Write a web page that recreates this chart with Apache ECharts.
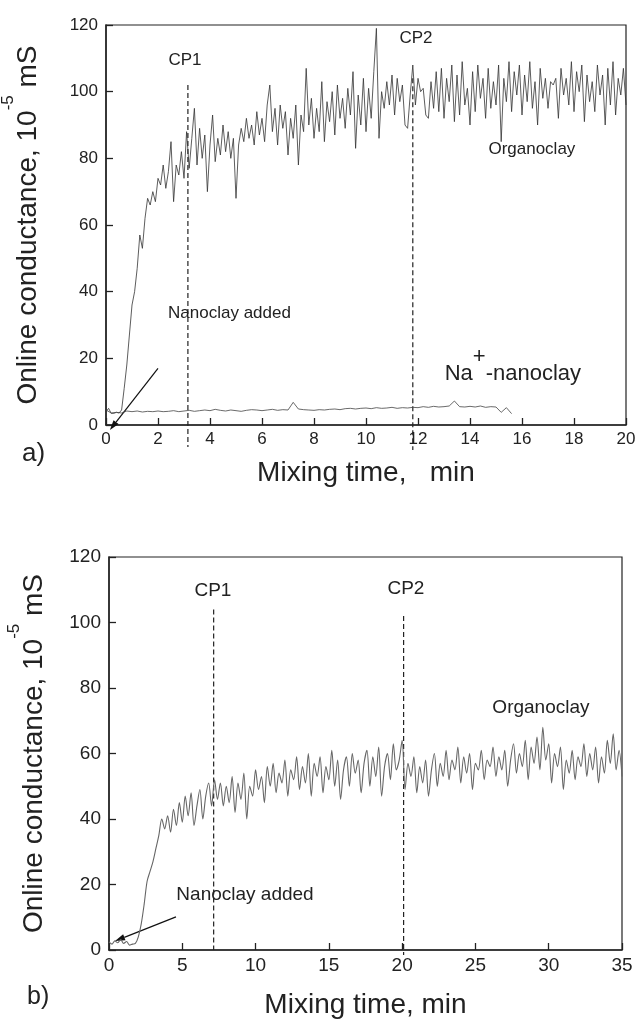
<!DOCTYPE html>
<html>
<head>
<meta charset="utf-8">
<script src="https://cdn.jsdelivr.net/npm/echarts@6.0.0/dist/echarts.min.js"></script>
<style>
  html, body { margin: 0; padding: 0; background: #fff; }
  #chart { width: 637px; height: 1019px; }
</style>
</head>
<body>
<div id="chart"></div>
<script>
  // (a) organoclay, sampled every 0.1 min from 0 to 20 min
  const ORG_A_STEP = 0.1;
  const ORG_A = [
    4, 5, 3.5, 3.5, 3.8, 3.6, 4.5, 11, 18, 27,
    36, 40, 47, 57, 53, 62, 68, 66, 70, 67,
    74, 72, 78, 71, 76, 85, 67, 78, 75, 82,
    74, 88, 77, 86, 95, 78, 89, 80, 87, 70,
    84, 93, 79, 86, 81, 90, 82, 88, 80, 86,
    68, 84, 89, 85, 92, 86, 90, 84, 94, 87,
    92, 85, 96, 102, 88, 95, 84, 96, 89, 94,
    81, 92, 86, 96, 78, 93, 88, 107, 90, 98,
    86, 95, 88, 103, 85, 97, 91, 100, 87, 102,
    92, 98, 89, 101, 93, 106, 83, 99, 90, 104,
    88, 101, 92, 106, 119, 86, 100, 95, 103, 96,
    105, 93, 104, 97, 102, 90, 89, 99, 108, 96,
    104, 100, 101, 93, 92, 103, 95, 106, 94, 107,
    92, 104, 97, 108, 91, 105, 93, 109, 96, 101,
    90, 106, 94, 108, 98, 104, 92, 107, 95, 103,
    96, 108, 85, 104, 97, 109, 94, 106, 99, 108,
    93, 105, 97, 109, 95, 103, 90, 107, 98, 104,
    95, 103, 102, 104, 92, 107, 99, 104, 96, 109,
    94, 106, 100, 108, 91, 105, 97, 103, 94, 108,
    99, 105, 90, 107, 96, 109, 93, 104, 99, 107,
    96
  ];

  // (a) Na+-nanoclay, sampled every 0.2 min from 0 to 15.6 min
  const NA_A_STEP = 0.2;
  const NA_A = [
    4.5, 3.6, 3.8, 3.6, 4.2, 4.0, 4.2, 3.9, 4.1, 4.0,
    4.2, 4.0, 4.1, 4.3, 4.0, 4.2, 4.4, 4.1, 4.3, 4.5,
    4.3, 4.7, 4.4, 4.2, 4.5, 4.3, 4.1, 4.4, 4.6, 4.5,
    4.3, 4.5, 4.7, 4.4, 4.6, 4.5, 6.8, 4.8, 4.6, 4.5,
    4.4, 4.6, 4.5, 4.7, 4.8, 4.6, 4.9, 5.0, 4.8, 5.0,
    5.1, 4.9, 5.2, 5.0, 5.1, 5.3, 5.0, 5.2, 5.1, 5.3,
    5.2, 5.5, 5.3, 5.6, 5.4, 5.5, 5.7, 7.2, 5.5, 5.4,
    5.6, 5.4, 5.7, 5.3, 5.5, 5.4, 3.8, 5.2, 3.4
  ];

  // (b) organoclay, sampled every 0.2 min from 0 to 35 min
  const ORG_B_STEP = 0.2;
  const ORG_B = [
    2.5, 1.8, 2.8, 2.2, 3.2, 2.0, 2.6, 1.5, 1.8, 2.0,
    4, 8, 14, 21, 24, 27, 31, 35, 40, 37,
    41, 36, 43, 38, 45, 39, 47, 41, 48, 38,
    44, 49, 40, 47, 51, 44, 52, 46, 51, 44,
    50, 45, 53, 42, 51, 46, 54, 40, 50, 47,
    55, 49, 53, 45, 56, 50, 57, 48, 54, 51,
    58, 47, 55, 52, 59, 49, 56, 51, 60, 47,
    57, 53, 59, 48, 56, 52, 61, 50, 58, 46,
    55, 59, 50, 60, 54, 58, 48, 57, 61, 50,
    59, 53, 62, 47, 56, 60, 52, 63, 55, 58,
    64, 49, 57, 53, 59, 48, 56, 51, 58, 47,
    55, 60, 50, 57, 53, 61, 52, 58, 55, 62,
    51, 59, 54, 60, 49, 57, 55, 61, 52, 58,
    56, 62, 53, 59, 55, 61, 50, 58, 63, 54,
    60, 56, 64, 52, 62, 57, 65, 55, 68, 58,
    63, 51, 60, 56, 62, 49, 58, 54, 61, 52,
    59, 56, 63, 53, 60, 55, 62, 51, 59, 54,
    64, 57, 66, 55, 61, 53
  ];

  // critical points [time, top of dashed line, bottom of dashed line]
  const CP_A = [[3.15, 102, -6.6], [11.8, 104, -7.5]];
  const CP_B = [[7.14, 104, 0], [20.1, 102, -1.5]];

  // "Nanoclay added" arrows [fromTime, fromValue, toTime, toValue]
  const ARROW_A = [[2.0, 17, 0.15, -1.5]];
  const ARROW_B = [[4.57, 10.1, 0.41, 2.75]];

  // text annotations [text, time, value]
  const LABELS_A = [
    ['CP1', 3.04, 109.5],
    ['CP2', 11.92, 116],
    ['Organoclay', 16.38, 82.8],
    ['Nanoclay added', 4.75, 33.6],
    ['Na{sup|+}-nanoclay', 15.65, 15.3]
  ];
  const LABELS_B = [
    ['CP1', 7.09, 109.6],
    ['CP2', 20.26, 110.2],
    ['Organoclay', 29.47, 74.1],
    ['Nanoclay added', 9.28, 16.8]
  ];

  const FONT = '"Liberation Sans", Arial, Helvetica, sans-serif';
  const INK = '#222';

  const toPairs = (vals, step) => vals.map((v, i) => [Number((i * step).toFixed(2)), v]);

  const makeX = (gridIndex, max, interval, name, gap, size) => ({
    gridIndex,
    type: 'value',
    min: 0,
    max,
    interval,
    name,
    nameLocation: 'middle',
    nameGap: gap,
    nameMoveOverlap: false,
    nameTextStyle: { fontSize: 28, color: INK, fontFamily: FONT },
    axisLine: { lineStyle: { color: INK, width: 1.5 } },
    axisTick: { inside: true, length: 7, lineStyle: { color: INK, width: 1.3 } },
    axisLabel: { fontSize: size, color: INK, fontFamily: FONT, margin: 6 },
    splitLine: { show: false }
  });

  const makeY = (gridIndex, gap, size) => ({
    gridIndex,
    type: 'value',
    min: 0,
    max: 120,
    interval: 20,
    name: 'Online conductance, 10{sup|-5} mS',
    nameLocation: 'middle',
    nameGap: gap,
    nameMoveOverlap: false,
    nameTextStyle: {
      fontSize: 28,
      lineHeight: 56,
      color: INK,
      fontFamily: FONT,
      rich: { sup: { fontSize: 17, lineHeight: 12, verticalAlign: 'top', color: INK, fontFamily: FONT } }
    },
    axisLine: { show: true, lineStyle: { color: INK, width: 1.5 } },
    axisTick: { show: true, inside: true, length: 7, lineStyle: { color: INK, width: 1.3 } },
    axisLabel: { fontSize: size, color: INK, fontFamily: FONT, margin: 8 },
    splitLine: { show: false }
  });

  // dashed CP lines, may run below the x axis
  const cpSeries = (axisIndex, cps) => ({
    type: 'custom',
    xAxisIndex: axisIndex,
    yAxisIndex: axisIndex,
    silent: true,
    clip: false,
    data: cps,
    renderItem: (params, api) => {
      const p0 = api.coord([api.value(0), api.value(1)]);
      const p1 = api.coord([api.value(0), api.value(2)]);
      return {
        type: 'line',
        shape: { x1: p0[0], y1: p0[1], x2: p1[0], y2: p1[1] },
        style: { stroke: INK, lineWidth: 1.2, lineDash: [5, 3] }
      };
    }
  });

  const arrowSeries = (axisIndex, arrows) => ({
    type: 'custom',
    xAxisIndex: axisIndex,
    yAxisIndex: axisIndex,
    silent: true,
    clip: false,
    data: arrows,
    renderItem: (params, api) => {
      const a = api.coord([api.value(0), api.value(1)]);
      const b = api.coord([api.value(2), api.value(3)]);
      const dx = b[0] - a[0];
      const dy = b[1] - a[1];
      const len = Math.sqrt(dx * dx + dy * dy);
      const ux = dx / len;
      const uy = dy / len;
      const headLen = 10;
      const headHalf = 3.2;
      const bx = b[0] - ux * headLen;
      const by = b[1] - uy * headLen;
      return {
        type: 'group',
        children: [
          {
            type: 'line',
            shape: { x1: a[0], y1: a[1], x2: bx, y2: by },
            style: { stroke: '#111', lineWidth: 1.2 }
          },
          {
            type: 'polygon',
            shape: {
              points: [
                [b[0], b[1]],
                [bx - uy * headHalf, by + ux * headHalf],
                [bx + uy * headHalf, by - ux * headHalf]
              ]
            },
            style: { fill: '#111' }
          }
        ]
      };
    }
  });

  const textMarks = (labels, fontSize) => labels.map(([text, t, v]) => ({
    coord: [t, v],
    label: {
      show: true,
      position: 'inside',
      formatter: text,
      color: INK,
      fontFamily: FONT,
      fontSize: text.startsWith('Na{') ? 22 : fontSize,
      lineHeight: text.startsWith('Na{') ? 56 : undefined,
      rich: { sup: { fontSize: 22, lineHeight: 16, verticalAlign: 'top', color: INK, fontFamily: FONT } }
    }
  }));

  const chart = echarts.init(document.getElementById('chart'), null, { renderer: 'canvas' });

  chart.setOption({
    animation: false,
    backgroundColor: '#fff',
    grid: [
      {
        left: 106, top: 25, width: 520, height: 400,
        containLabel: false, outerBoundsMode: 'none',
        show: true, borderColor: INK, borderWidth: 1.2
      },
      {
        left: 109, top: 557, width: 513, height: 393,
        containLabel: false, outerBoundsMode: 'none',
        show: true, borderColor: INK, borderWidth: 1.2
      }
    ],
    xAxis: [
      makeX(0, 20, 2, 'Mixing time,   min', 34, 17),
      makeX(1, 35, 5, 'Mixing time, min', 41, 19)
    ],
    yAxis: [makeY(0, 50, 17), makeY(1, 47, 19)],
    graphic: [
      { type: 'text', left: 22, top: 441, style: { text: 'a)', fontSize: 26, fontFamily: FONT, fill: INK } },
      { type: 'text', left: 27, top: 985, style: { text: 'b)', fontSize: 25, fontFamily: FONT, fill: INK } }
    ],
    series: [
      {
        name: 'Organoclay (a)',
        type: 'line',
        xAxisIndex: 0,
        yAxisIndex: 0,
        data: toPairs(ORG_A, ORG_A_STEP),
        symbol: 'none',
        lineStyle: { color: '#333', width: 0.8 },
        markPoint: {
          silent: true,
          animation: false,
          symbol: 'circle',
          symbolSize: 1,
          itemStyle: { color: 'rgba(0,0,0,0)' },
          data: textMarks(LABELS_A, 17)
        }
      },
      {
        name: 'Na+-nanoclay (a)',
        type: 'line',
        xAxisIndex: 0,
        yAxisIndex: 0,
        data: toPairs(NA_A, NA_A_STEP),
        symbol: 'none',
        lineStyle: { color: '#444', width: 0.8 }
      },
      cpSeries(0, CP_A),
      arrowSeries(0, ARROW_A),
      {
        name: 'Organoclay (b)',
        type: 'line',
        xAxisIndex: 1,
        yAxisIndex: 1,
        data: toPairs(ORG_B, ORG_B_STEP),
        symbol: 'none',
        smooth: 0.3,
        lineStyle: { color: '#666', width: 1.1 },
        markPoint: {
          silent: true,
          animation: false,
          symbol: 'circle',
          symbolSize: 1,
          itemStyle: { color: 'rgba(0,0,0,0)' },
          data: textMarks(LABELS_B, 19)
        }
      },
      cpSeries(1, CP_B),
      arrowSeries(1, ARROW_B)
    ]
  });

  window.addEventListener('resize', () => chart.resize());
</script>
</body>
</html>
